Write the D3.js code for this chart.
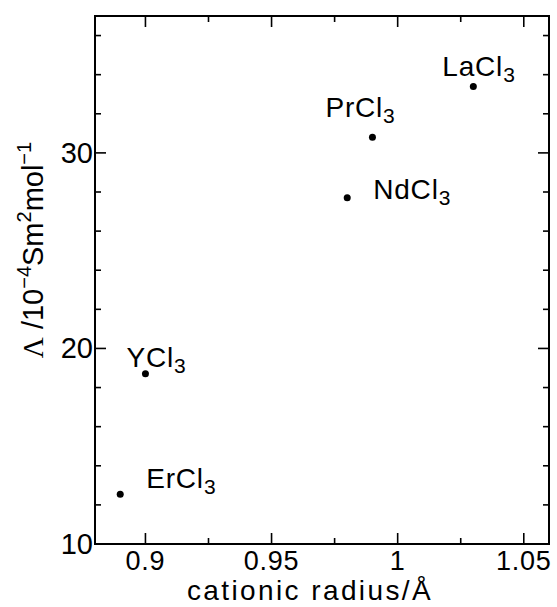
<!DOCTYPE html>
<html>
<head>
<meta charset="utf-8">
<script src="https://cdn.jsdelivr.net/npm/d3@7"></script>
<style>
  body { margin: 0; background: #fff; }
  svg { font-family: "Liberation Sans", Arial, Helvetica, sans-serif; }
</style>
</head>
<body>
<div id="chart"></div>
<script>
// chart size and plot box
const width = 557;
const height = 607;
const margin = {left: 95, right: 8, top: 16, bottom: 63};

// data
const salts = ["LaCl", "PrCl", "NdCl", "YCl", "ErCl"];
const radius = [1.03, 0.99, 0.98, 0.90, 0.89];
const conductivity = [33.4, 30.8, 27.7, 18.7, 12.55];
// label offset from the dot (dx, dy) in px
const labelDx = [-31, -47, 26, -19, 26];
const labelDy = [-10, -20, 1, -7, -6];

const xTicks = [0.9, 0.95, 1, 1.05];
const xTickLabels = ["0.9", "0.95", "1", "1.05"];
const xMinor = [0.925, 0.975, 1.025];
const yTicks = [10, 20, 30];
const yMinor = [12, 14, 16, 18, 22, 24, 26, 28, 32, 34, 36];

const svg = d3.select("#chart")
  .append("svg")
  .attr("width", width)
  .attr("height", height);

const xScale = d3.scaleLinear()
  .domain([0.88, 1.06])
  .range([margin.left, width - margin.right]);

const yScale = d3.scaleLinear()
  .domain([10, 37])
  .range([height - margin.bottom, margin.top]);

const x0 = margin.left, x1 = width - margin.right;
const y0 = height - margin.bottom, y1 = margin.top;
const majorLen = 11, minorLen = 6;

// frame
svg.append("rect")
  .attr("x", x0).attr("y", y1)
  .attr("width", x1 - x0).attr("height", y0 - y1)
  .attr("fill", "none").attr("stroke", "#000").attr("stroke-width", 2);

// ticks, all pointing inside, on all four sides
const ticks = svg.append("g").attr("stroke", "#000").attr("stroke-width", 1.6);
function xTick(v, len) {
  ticks.append("line").attr("x1", xScale(v)).attr("x2", xScale(v))
    .attr("y1", y0).attr("y2", y0 - len);
  ticks.append("line").attr("x1", xScale(v)).attr("x2", xScale(v))
    .attr("y1", y1).attr("y2", y1 + len);
}
function yTick(v, len) {
  ticks.append("line").attr("y1", yScale(v)).attr("y2", yScale(v))
    .attr("x1", x0).attr("x2", x0 + len);
  ticks.append("line").attr("y1", yScale(v)).attr("y2", yScale(v))
    .attr("x1", x1).attr("x2", x1 - len);
}
xTicks.forEach(v => xTick(v, majorLen));
xMinor.forEach(v => xTick(v, minorLen));
yTicks.forEach(v => yTick(v, majorLen));
yMinor.forEach(v => yTick(v, minorLen));

// tick labels
svg.append("g").selectAll("text")
  .data(xTicks)
  .join("text")
    .attr("x", d => xScale(d))
    .attr("y", y0 + 26)
    .attr("text-anchor", "middle")
    .attr("font-size", 27)
    .attr("letter-spacing", 0.8)
    .text((d, i) => xTickLabels[i]);

svg.append("g").selectAll("text")
  .data(yTicks)
  .join("text")
    .attr("x", x0 - 2)
    .attr("y", d => yScale(d) + 10)
    .attr("text-anchor", "end")
    .attr("font-size", 29)
    .text(d => d);

// axis titles
svg.append("text")
  .attr("x", 310)
  .attr("y", height - 7)
  .attr("text-anchor", "middle")
  .attr("font-size", 28)
  .attr("letter-spacing", 2.4)
  .text("cationic radius/Å");

const yTitle = svg.append("text")
  .attr("transform", "translate(43, 250) rotate(-90)")
  .attr("text-anchor", "middle")
  .attr("font-size", 29);
yTitle.append("tspan").attr("font-family", "Liberation Serif, serif").text("Λ");
yTitle.append("tspan").text(" /10");
yTitle.append("tspan").attr("font-size", 20).attr("dy", -12).text("−4");
yTitle.append("tspan").attr("dy", 12).text("Sm");
yTitle.append("tspan").attr("font-size", 20).attr("dy", -12).text("2");
yTitle.append("tspan").attr("dy", 12).text("mol");
yTitle.append("tspan").attr("font-size", 20).attr("dy", -12).text("−1");

// points
svg.append("g").selectAll("circle")
  .data(salts)
  .join("circle")
    .attr("cx", (d, i) => xScale(radius[i]))
    .attr("cy", (d, i) => yScale(conductivity[i]))
    .attr("r", 3.5)
    .attr("fill", "#000");

// point labels with subscript 3
const labels = svg.append("g").selectAll("text")
  .data(salts)
  .join("text")
    .attr("x", (d, i) => xScale(radius[i]) + labelDx[i])
    .attr("y", (d, i) => yScale(conductivity[i]) + labelDy[i])
    .attr("font-size", 28)
    .attr("letter-spacing", 0.8);
labels.append("tspan").text(d => d);
labels.append("tspan").attr("font-size", 21).attr("dy", 6).text("3");
</script>
</body>
</html>
